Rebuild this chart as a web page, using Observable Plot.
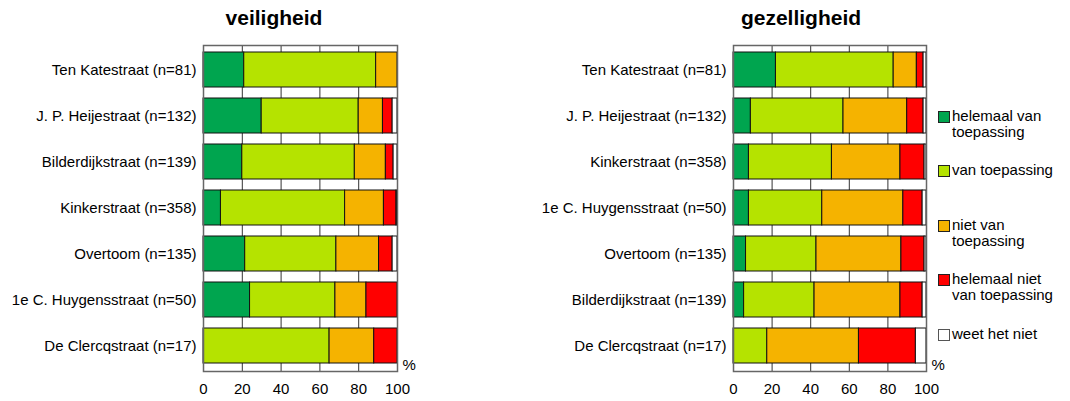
<!DOCTYPE html>
<html>
<head>
<meta charset="utf-8">
<script src="https://cdn.jsdelivr.net/npm/d3@7"></script>
<script src="https://cdn.jsdelivr.net/npm/@observablehq/plot@0.6"></script>
<style>
  body { margin: 0; background: white; font-family: "Liberation Sans", Arial, sans-serif; }
  #wrap { position: relative; width: 1070px; height: 401px; overflow: hidden; }
  .title { position: absolute; top: 6px; font-weight: bold; font-size: 21px; transform: translateX(-50%); white-space: nowrap; }
  .panel { position: absolute; top: 0; }
  .leg { position: absolute; left: 938px; font-size: 15px; line-height: 16px; }
  .sw { position: absolute; left: 0; width: 10px; height: 10px; border: 1px solid #222; }
  .lt { position: absolute; left: 14px; white-space: nowrap; }
</style>
</head>
<body>
<div id="wrap"></div>
<script>
// ---- data ----
const categories = ["helemaal van toepassing", "van toepassing", "niet van toepassing", "helemaal niet van toepassing", "weet het niet"];
const colors = ["#00a54f", "#b5e300", "#f5b300", "#ff0000", "#ffffff"];
const xTicks = [0, 20, 40, 60, 80, 100];
const gridTicks = [20, 40, 60, 80];

// veiligheid
const streetsV = ["Ten Katestraat (n=81)", "J. P. Heijestraat (n=132)", "Bilderdijkstraat (n=139)", "Kinkerstraat (n=358)", "Overtoom (n=135)", "1e C. Huygensstraat (n=50)", "De Clercqstraat (n=17)"];
const vHelemaal     = [21, 30, 20, 9, 21.5, 24, 0];
const vVan          = [68, 50, 58, 64, 47, 44, 65];
const vNiet         = [11, 12.5, 16, 20, 22, 16, 23];
const vHelemaalNiet = [0, 5, 4, 6.5, 7, 16, 12];
const vWeet         = [0, 2.5, 2, 0.5, 2.5, 0, 0];

// gezelligheid
const streetsG = ["Ten Katestraat (n=81)", "J. P. Heijestraat (n=132)", "Kinkerstraat (n=358)", "1e C. Huygensstraat (n=50)", "Overtoom (n=135)", "Bilderdijkstraat (n=139)", "De Clercqstraat (n=17)"];
const gHelemaal     = [22, 9, 8, 8, 6.5, 5.5, 0];
const gVan          = [61, 48, 43, 38, 36.5, 36.5, 17.5];
const gNiet         = [12, 33, 35.5, 42, 44, 44.5, 47.5];
const gHelemaalNiet = [3.5, 8.5, 12.5, 10, 12, 11.5, 29.5];
const gWeet         = [1.5, 1.5, 1, 2, 1, 2, 5.5];

function panel(streets, series, width, ml, mr) {
  const data = [];
  streets.forEach((s, i) => categories.forEach((c, j) => {
    const v = series[j][i];
    if (v > 0) data.push({street: s, cat: c, value: v});
  }));
  return Plot.plot({
    width, height: 401,
    marginLeft: ml, marginRight: mr, marginTop: 45, marginBottom: 30,
    style: {fontFamily: "'Liberation Sans', Arial, sans-serif", fontSize: "15px", color: "black", background: "white", overflow: "visible"},
    x: {domain: [0, 100], ticks: xTicks, tickSize: 0, tickPadding: 12, label: null},
    y: {domain: streets, paddingInner: 0.23, paddingOuter: 0.12, tickSize: 0, tickPadding: 7, label: null},
    color: {domain: categories, range: colors},
    marks: [
      Plot.ruleX(gridTicks, {stroke: "#333", strokeWidth: 1}),
      Plot.barX(data, {x: "value", y: "street", fill: "cat", stroke: "#111", strokeWidth: 1, order: categories}),
      Plot.frame({stroke: "#666", strokeWidth: 1.5}),
      Plot.text(["%"], {frameAnchor: "bottom-right", textAnchor: "start", dx: 5, dy: -2, fontSize: 15})
    ]
  });
}

const wrap = document.getElementById("wrap");
const p1 = panel(streetsV, [vHelemaal, vVan, vNiet, vHelemaalNiet, vWeet], 530, 203, 133);
p1.classList.add("panel"); p1.style.left = "0px";
wrap.appendChild(p1);
const p2 = panel(streetsG, [gHelemaal, gVan, gNiet, gHelemaalNiet, gWeet], 540, 203, 144);
p2.classList.add("panel"); p2.style.left = "530px";
wrap.appendChild(p2);

function addTitle(text, cx) {
  const d = document.createElement("div");
  d.className = "title"; d.textContent = text; d.style.left = cx + "px";
  wrap.appendChild(d);
}
addTitle("veiligheid", 274);
addTitle("gezelligheid", 801);

// legend
const legendLines = [["helemaal van", "toepassing"], ["van toepassing"], ["niet van", "toepassing"], ["helemaal niet", "van toepassing"], ["weet het niet"]];
const legendTops = [111, 165, 220, 274, 329];
categories.forEach((c, i) => {
  const g = document.createElement("div");
  g.className = "leg"; g.style.top = legendTops[i] + "px";
  const sw = document.createElement("div");
  sw.className = "sw"; sw.style.top = "0px"; sw.style.background = colors[i];
  sw.style.borderColor = i === 4 ? "#555" : "#222";
  g.appendChild(sw);
  const t = document.createElement("div");
  t.className = "lt"; t.style.top = "-3px";
  t.innerHTML = legendLines[i].join("<br>");
  g.appendChild(t);
  wrap.appendChild(g);
});
</script>
</body>
</html>
